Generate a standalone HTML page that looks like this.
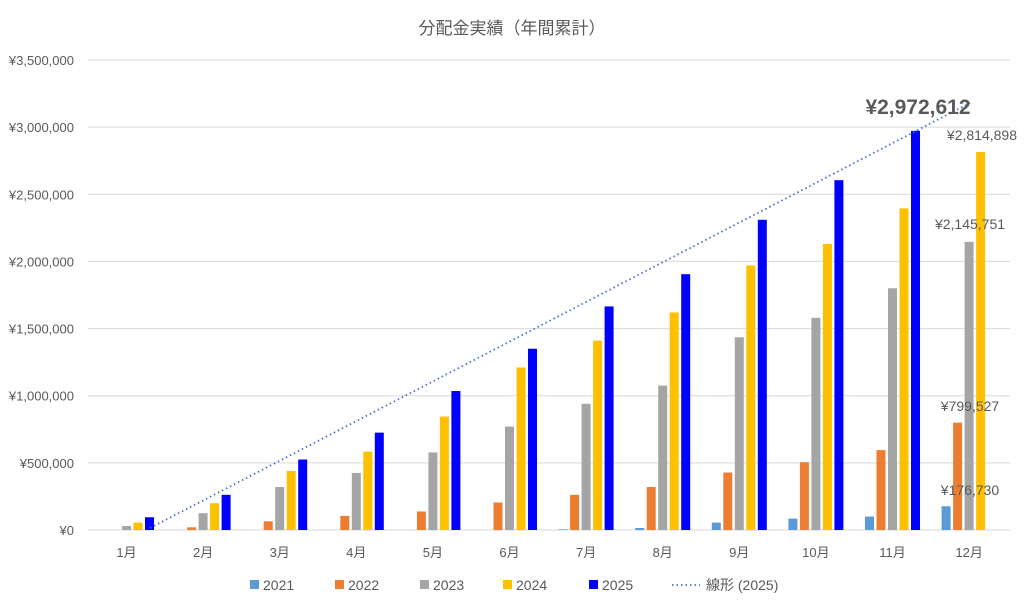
<!DOCTYPE html>
<html><head><meta charset="utf-8"><style>
body{margin:0;background:#fff;}
svg text{font-family:"Liberation Sans","Noto Sans CJK JP",sans-serif;fill:#595959;}
</style></head><body>
<svg id="s" width="1024" height="607" xmlns="http://www.w3.org/2000/svg"></svg>
<script>
const s=document.getElementById('s');let h='';
h+='<text x="512" y="34" font-size="17" text-anchor="middle">分配金実績（年間累計）</text>';
const y0=530,k=470/3500000;
for(let i=0;i<=7;i++){const y=y0-i*500000*k;
h+=`<line x1="88" x2="1010" y1="${y}" y2="${y}" stroke="#d9d9d9" stroke-width="1"/>`;
h+=`<text x="74" y="${y+5}" font-size="13" text-anchor="end">¥${(i*500000).toLocaleString('en-US')}</text>`;}
const data=[
[0,0,30000,55000,95000],
[0,20000,125000,200000,262000],
[0,65000,320000,440000,525000],
[0,105000,425000,584000,725000],
[0,138000,578000,845000,1035000],
[0,205000,770000,1210000,1350000],
[5000,262000,940000,1410000,1665000],
[15000,320000,1075000,1620000,1905000],
[55000,428000,1435000,1970000,2310000],
[85000,505000,1580000,2130000,2605000],
[100000,595000,1800000,2395000,2972612],
[176730,799527,2145751,2814898,0]];
const col=['#5b9bd5','#ed7d31','#a5a5a5','#ffc000','#0000ff'];
data.forEach((d,i)=>{const c=126.5+i*76.6;
d.forEach((v,j)=>{if(!v)return;const hh=v*k;const x=c+(j-2)*11.5-4.5;
h+=`<rect x="${x}" y="${y0-hh}" width="9" height="${hh}" fill="${col[j]}"/>`;});
h+=`<text x="${c}" y="557" font-size="13" text-anchor="middle">${i+1}月</text>`;});
h+='<line x1="150" y1="528" x2="970" y2="103" stroke="#4472c4" stroke-width="1.8" stroke-dasharray="1.5,3"/>';
h+='<text x="970" y="495" font-size="14" text-anchor="middle">¥176,730</text>';
h+='<text x="970" y="411" font-size="14" text-anchor="middle">¥799,527</text>';
h+='<text x="970" y="229" font-size="14" text-anchor="middle">¥2,145,751</text>';
h+='<text x="1017" y="140" font-size="14" text-anchor="end">¥2,814,898</text>';
h+='<text x="918" y="114" font-size="21" font-weight="bold" fill="#404040" text-anchor="middle">¥2,972,612</text>';
const lg=[['2021',250],['2022',335],['2023',420],['2024',503],['2025',589]];
lg.forEach((l,j)=>{h+=`<rect x="${l[1]}" y="580" width="9" height="9" fill="${col[j]}"/><text x="${l[1]+13}" y="590" font-size="14">${l[0]}</text>`;});
h+='<line x1="672" y1="585" x2="700" y2="585" stroke="#4472c4" stroke-width="1.8" stroke-dasharray="1.5,3"/><text x="706" y="590" font-size="14">線形 (2025)</text>';
s.innerHTML=h;
</script>
</body></html>
